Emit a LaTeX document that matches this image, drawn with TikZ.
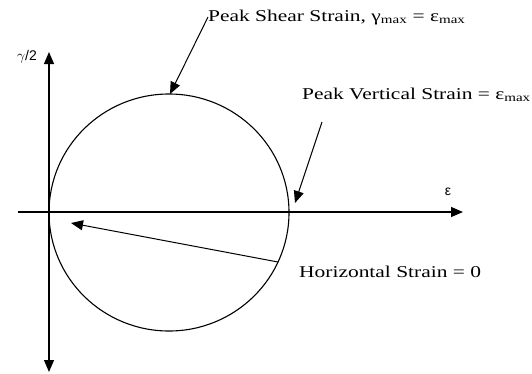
\documentclass[tikz,border=0pt]{standalone}
\usepackage{fontspec}
\setmainfont{Liberation Serif}
\newfontfamily\lblfont[FakeStretch=1.3]{Liberation Serif}
\newfontfamily\axfont{Liberation Sans}
\usetikzlibrary{arrows.meta, positioning}

\begin{document}
\begin{tikzpicture}[
  x=1pt, y=-1pt,
  tip/.style={-{Triangle[length=12pt,width=10pt]}},
  ax/.style={line width=1.2pt},
  lead/.style={tip, line width=1pt},
  mohr/.style={line width=1.1pt},
  lbl/.style={font=\lblfont\fontsize{16.5}{18}\selectfont, inner sep=0pt, anchor=base west},
  axlbl/.style={font=\axfont\fontsize{14}{16}\selectfont, inner sep=0pt},
]
\useasboundingbox (0,0) rectangle (532,373);

% axes
\coordinate (o) at (49,212);
\coordinate (ytop) at (49,52);
\coordinate (ybot) at (49,372);
\coordinate (xl) at (18,212);
\coordinate (xr) at (463,212);
\draw[ax, {Triangle[length=12pt,width=10pt]}-{Triangle[length=12pt,width=10pt]}] (ybot) -- (ytop);
\draw[ax, tip] (xl) -- (xr);
\node[axlbl] (gam) at (27,57) {$\gamma$/2};
\node[axlbl] (eps) at (448,192) {ε};

% Mohr circle of strain
\draw[mohr] (169,212.5) ellipse [x radius=120pt, y radius=118.5pt];
\coordinate (ctop) at (170,94);
\coordinate (cright) at (295,203);
\coordinate (cleft) at (71,223);

% labels and leaders
\node[lbl] (shear) at (208,21) {Peak Shear Strain, γ\textsubscript{max} = ε\textsubscript{max}};
\node[lbl] (vert) at (302,99) {Peak Vertical Strain = ε\textsubscript{max}};
\node[lbl] (horiz) at (299,277) {Horizontal Strain = 0};
\coordinate (vtail) at (322,122);
\coordinate (htail) at (278,262);
\draw[lead] (shear.west) -- (ctop);
\draw[lead] (vtail) -- (cright);
\draw[lead] (htail) -- (cleft);

\end{tikzpicture}
\end{document}
